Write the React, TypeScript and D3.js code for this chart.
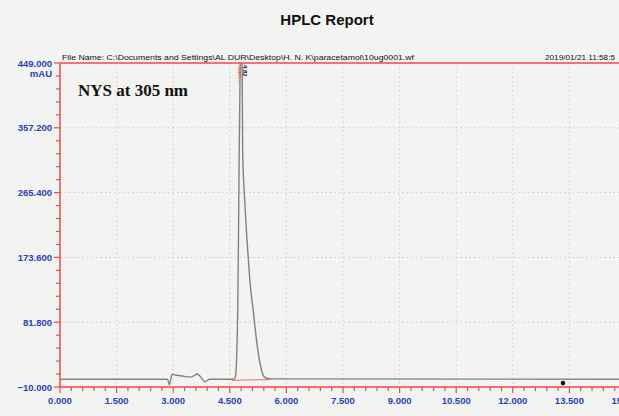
import React, { useEffect, useRef } from 'react';
import * as d3 from 'd3';

// chromatogram trace (time in min, absorbance in mAU)
const traceTime = [0, 2.85, 2.9, 2.97, 3.05, 3.2, 3.45, 3.55, 3.63, 3.72, 3.84, 3.97, 4.6, 4.65, 4.68, 4.71, 4.73, 4.75, 4.78, 4.8, 4.83, 4.84, 4.9, 4.98, 5.05, 5.12, 5.2, 5.28, 5.35, 5.42, 5.5, 5.6, 15];
const traceValue = [1, 1, -7, 8, 7, 6, 4, 6, 8.4, 5, -2.5, 1, 1, 5, 30, 99, 200, 326, 470, 520, 420, 326, 250, 180, 130, 99, 60, 30, 12, 4, 2, 1.5, 1];

// integration baseline under the peak
const baselineTime = [4.55, 5.6];
const baselineValue = [-0.5, 0.5];

const xTicks = [0, 1.5, 3, 4.5, 6, 7.5, 9, 10.5, 12, 13.5, 15];
const yTicks = [-10, 81.8, 173.6, 265.4, 357.2, 449];

const eventMarks = [{ t: 13.33, v: -4.5 }];

const W = 619;
const H = 416;

const App: React.FC = () => {
  const svgRef = useRef<SVGSVGElement>(null);

  useEffect(() => {
    document.body.style.margin = '0';
    if (!svgRef.current) return;
    const svg = d3.select(svgRef.current);
    svg.selectAll('*').remove();

    const x = d3.scaleLinear().domain([0, 15]).range([60, 626]);
    const y = d3.scaleLinear().domain([-10, 449]).range([387, 63]);
    const red = '#f04848';
    const blue = '#2b3fb8';

    svg.append('rect').attr('width', W).attr('height', H).attr('fill', '#f3f3f1');

    // title + header
    svg.append('text').attr('x', 327).attr('y', 25).attr('text-anchor', 'middle')
      .attr('font-family', 'Arial, Liberation Sans, sans-serif').attr('font-weight', 'bold')
      .attr('font-size', 15).attr('fill', '#111').text('HPLC Report');
    svg.append('text').attr('x', 62).attr('y', 60)
      .attr('font-family', 'Arial, Liberation Sans, sans-serif').attr('font-size', 6.5)
      .attr('textLength', 352).attr('lengthAdjust', 'spacingAndGlyphs').attr('fill', '#111')
      .text('File Name: C:\\Documents and Settings\\AL DUR\\Desktop\\H. N. K\\paracetamol\\10ug0001.wf');
    svg.append('text').attr('x', 545).attr('y', 60)
      .attr('font-family', 'Arial, Liberation Sans, sans-serif').attr('font-size', 6.5)
      .attr('textLength', 70).attr('lengthAdjust', 'spacingAndGlyphs').attr('fill', '#111')
      .text('2019/01/21 11:58:5');

    // dotted grid
    const grid = svg.append('g').attr('stroke', '#c2c2ba').attr('stroke-width', 0.8).attr('stroke-dasharray', '1.5 3');
    xTicks.filter(t => t > 0).forEach(t => {
      grid.append('line').attr('x1', x(t)).attr('x2', x(t)).attr('y1', 63).attr('y2', 387);
    });
    yTicks.filter(v => v > -10 && v < 449).forEach(v => {
      grid.append('line').attr('x1', 60).attr('x2', W).attr('y1', y(v)).attr('y2', y(v));
    });

    // trace, clipped to plot
    svg.append('clipPath').attr('id', 'plot-clip').append('rect')
      .attr('x', 60).attr('y', 63).attr('width', W - 60).attr('height', 324);
    const pts = traceTime.map((t, i) => [t, traceValue[i]] as [number, number]);
    const line = d3.line<[number, number]>().x(d => x(d[0])).y(d => y(d[1])).curve(d3.curveMonotoneX);
    svg.append('path').datum(pts).attr('clip-path', 'url(#plot-clip)')
      .attr('d', line).attr('fill', 'none').attr('stroke', '#7d8580').attr('stroke-width', 1.4);

    const base = baselineTime.map((t, i) => [t, baselineValue[i]] as [number, number]);
    svg.append('path').datum(base).attr('d', d3.line<[number, number]>().x(d => x(d[0])).y(d => y(d[1])))
      .attr('fill', 'none').attr('stroke', '#f07070').attr('stroke-width', 1);

    svg.selectAll('circle.event').data(eventMarks).enter().append('circle')
      .attr('class', 'event').attr('cx', d => x(d.t)).attr('cy', d => y(d.v)).attr('r', 2.3).attr('fill', '#111');

    // peak annotation
    svg.append('text').attr('transform', `translate(${x(4.72)},66) rotate(90)`)
      .attr('font-family', 'Arial, sans-serif').attr('font-size', 6).attr('fill', red).text('Sam...');
    svg.append('text').attr('transform', `translate(${x(4.84)},65) rotate(90)`)
      .attr('font-family', 'Arial, sans-serif').attr('font-size', 6).attr('font-weight', 'bold')
      .attr('fill', '#222').text('4.82');

    // frame / axes in red
    svg.append('line').attr('x1', 60).attr('x2', W).attr('y1', 63).attr('y2', 63).attr('stroke', red).attr('stroke-width', 1.5);
    svg.append('line').attr('x1', 60).attr('x2', 60).attr('y1', 63).attr('y2', 387).attr('stroke', red).attr('stroke-width', 1.5);
    svg.append('line').attr('x1', 60).attr('x2', W).attr('y1', 387).attr('y2', 387).attr('stroke', red).attr('stroke-width', 1.5);

    const axisText = (sel: d3.Selection<SVGTextElement, unknown, null, undefined>) =>
      sel.attr('font-family', 'Arial, Liberation Sans, sans-serif').attr('font-weight', 'bold')
        .attr('font-size', 9.5).attr('fill', blue);

    // y ticks
    const yMinor = d3.range(0, 26).map(i => -10 + i * 18.36);
    yMinor.forEach((v, i) => {
      const major = i % 5 === 0;
      svg.append('line').attr('x1', major ? 54 : 56).attr('x2', 60).attr('y1', y(v)).attr('y2', y(v))
        .attr('stroke', red).attr('stroke-width', 1.2);
    });
    yTicks.forEach(v => {
      svg.append('text').attr('x', 52).attr('y', y(v) + 3.5).attr('text-anchor', 'end')
        .call(axisText).text(d3.format('.3f')(v));
    });
    svg.append('text').attr('x', 52).attr('y', y(449) + 14).attr('text-anchor', 'end').call(axisText).text('mAU');

    // x ticks
    const xMinor = d3.range(0, 51).map(i => i * 0.3);
    xMinor.forEach((t, i) => {
      const major = i % 5 === 0;
      svg.append('line').attr('x1', x(t)).attr('x2', x(t)).attr('y1', 387).attr('y2', major ? 393 : 391)
        .attr('stroke', red).attr('stroke-width', 1.2);
    });
    xTicks.forEach(t => {
      svg.append('text').attr('x', x(t)).attr('y', 404).attr('text-anchor', 'middle')
        .call(axisText).text(d3.format('.3f')(t));
    });
    svg.append('text').attr('x', x(15) - 6).attr('y', 415).call(axisText).text('Min');

    // panel label
    svg.append('text').attr('x', 78).attr('y', 96)
      .attr('font-family', 'Liberation Serif, Times New Roman, serif').attr('font-weight', 'bold')
      .attr('font-size', 17).attr('fill', '#111').text('NYS at 305 nm');
  }, []);

  return <svg ref={svgRef} width={W} height={H} style={{ display: 'block' }} />;
};

export default App;
